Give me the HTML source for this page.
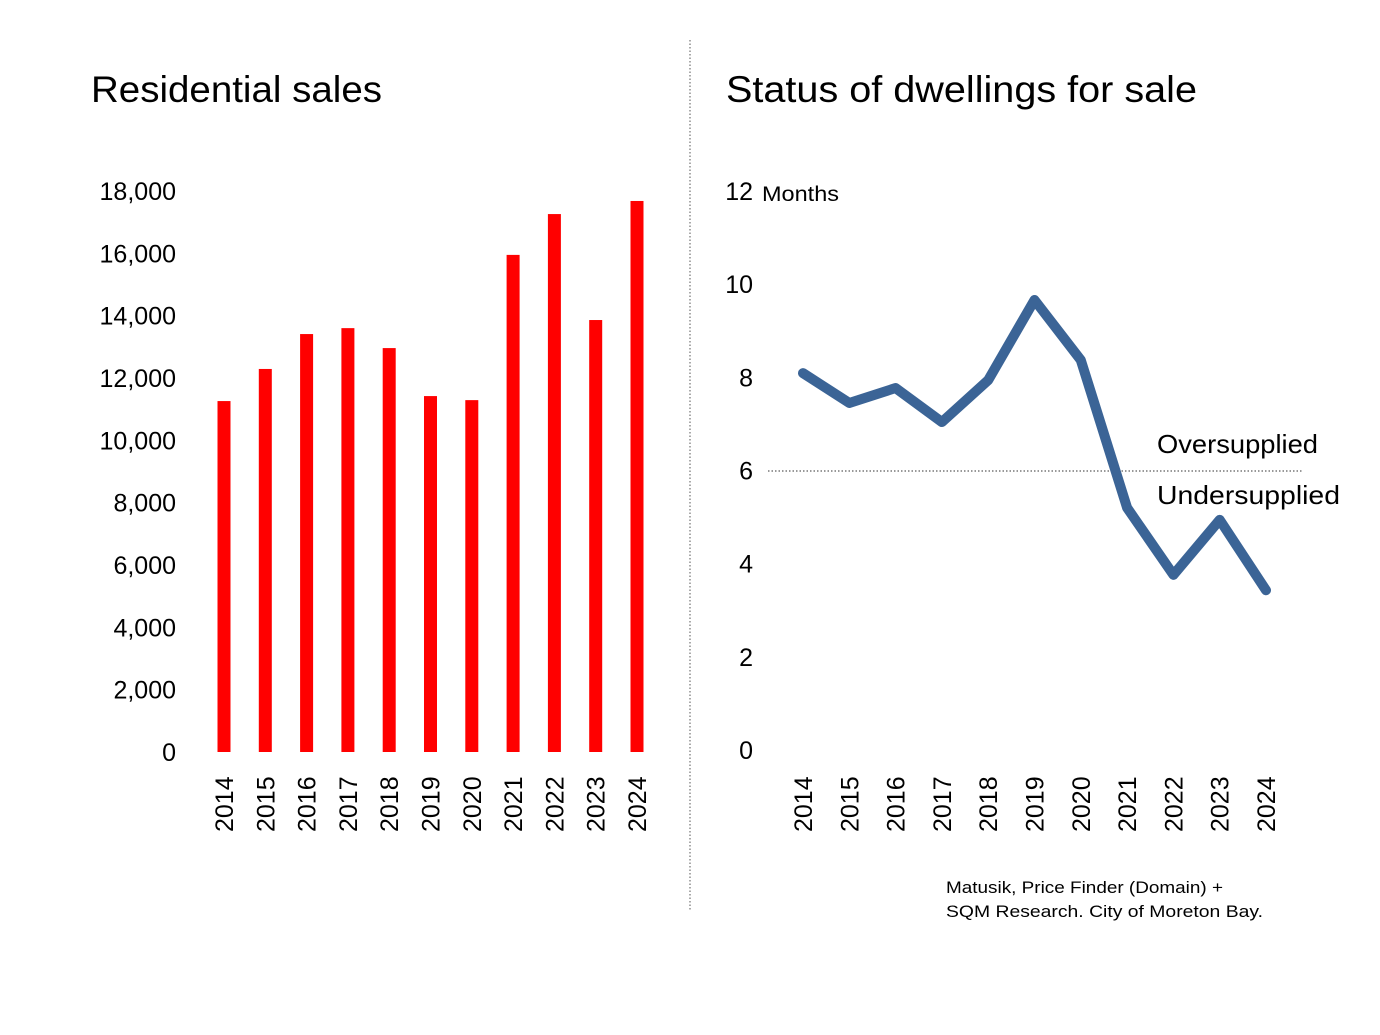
<!DOCTYPE html>
<html><head><meta charset="utf-8"><style>
html,body{margin:0;padding:0;background:#fff;}
svg{display:block;font-family:"Liberation Sans",sans-serif;}
</style></head><body>
<svg id="c" width="1380" height="1035" viewBox="0 0 1380 1035">
<text x="91" y="102" font-size="37" fill="#000" textLength="291" lengthAdjust="spacingAndGlyphs">Residential sales</text>
<text x="726" y="102" font-size="37" fill="#000" textLength="471" lengthAdjust="spacingAndGlyphs">Status of dwellings for sale</text>
<line x1="690" y1="40" x2="690" y2="910" stroke="#555" stroke-width="1" stroke-dasharray="1.5,2"/>
<line x1="768" y1="471" x2="1302" y2="471" stroke="#333" stroke-width="1" stroke-dasharray="1.5,2"/>
<text x="1157" y="453" font-size="26" fill="#000" textLength="161" lengthAdjust="spacingAndGlyphs">Oversupplied</text>
<text x="1157" y="504" font-size="26" fill="#000" textLength="183" lengthAdjust="spacingAndGlyphs">Undersupplied</text>
<text x="762" y="201" font-size="21" fill="#000" textLength="77" lengthAdjust="spacingAndGlyphs">Months</text>
<text x="946" y="893" font-size="17" fill="#000" textLength="277" lengthAdjust="spacingAndGlyphs">Matusik, Price Finder (Domain) +</text>
<text x="946" y="917" font-size="17" fill="#000" textLength="317" lengthAdjust="spacingAndGlyphs">SQM Research.  City of Moreton Bay.</text>
<g id="left"></g><g id="right"></g>
</svg>
<script>
const years = ["2014","2015","2016","2017","2018","2019","2020","2021","2022","2023","2024"];
const salesValues = [11260,12290,13410,13600,12960,11420,11290,15950,17260,13860,17680];
const salesTicks = [0,2000,4000,6000,8000,10000,12000,14000,16000,18000];
const monthsValues = [8.09,7.45,7.77,7.04,7.94,9.66,8.37,5.2,3.76,4.94,3.43];
const monthsTicks = [0,2,4,6,8,10,12];

const NS="http://www.w3.org/2000/svg";
function mk(tag, attrs, parent){const e=document.createElementNS(NS,tag);for(const k in attrs)e.setAttribute(k,attrs[k]);parent.appendChild(e);return e;}
const L=document.getElementById('left'), R=document.getElementById('right');
const ly=v=>752-v/18000*561;
const lx=i=>224+i*41.3;
salesTicks.forEach(t=>{
  const e=mk('text',{x:176,y:ly(t)+9,'font-size':25,'text-anchor':'end',fill:'#000'},L);
  e.textContent=t.toLocaleString('en-US');
  
  
});
salesValues.forEach((v,i)=>{
  const r=mk('rect',{x:lx(i)-6.5,y:ly(v),width:13,height:752-ly(v),fill:'#ff0000'},L);
  
  
});
years.forEach((y,i)=>{
  const e=mk('text',{transform:`translate(${lx(i)+9},832) rotate(-90)`,'font-size':25,fill:'#000'},L);
  e.textContent=y;
  
  
});
const ry=v=>750-v/12*559;
const rx=i=>803+i*46.3;
monthsTicks.forEach(t=>{
  const e=mk('text',{x:753,y:ry(t)+9,'font-size':25,'text-anchor':'end',fill:'#000'},R);
  e.textContent=t;
  
  
});
const p=mk('polyline',{points:monthsValues.map((v,i)=>rx(i)+','+ry(v)).join(' '),fill:'none',stroke:'#3b6496','stroke-width':10,'stroke-linejoin':'round','stroke-linecap':'round'},R);


years.forEach((y,i)=>{
  const e=mk('text',{transform:`translate(${rx(i)+9},832) rotate(-90)`,'font-size':25,fill:'#000'},R);
  e.textContent=y;
  
  
});
</script>
</body></html>
